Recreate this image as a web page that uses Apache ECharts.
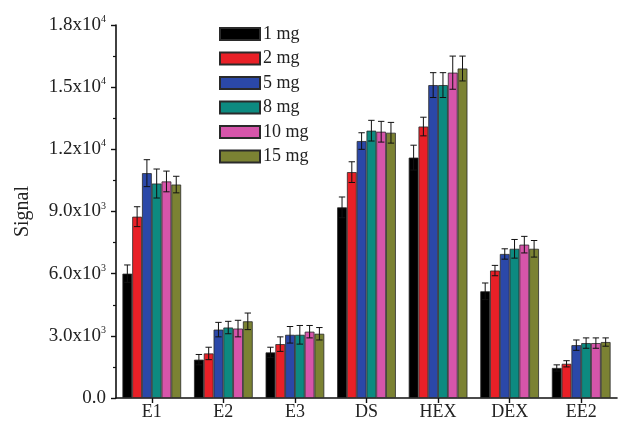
<!DOCTYPE html>
<html><head><meta charset="utf-8">
<script src="https://cdn.jsdelivr.net/npm/echarts@6/dist/echarts.min.js"></script>
<style>html,body{margin:0;padding:0;background:#fff}#c{width:618px;height:428px}</style>
</head><body><div id="c"></div>
<script>
const categories = ['E1','E2','E3','DS','HEX','DEX','EE2'];
const seriesNames = ['1 mg','2 mg','5 mg','8 mg','10 mg','15 mg'];
const colors = ['#000000','#e82027','#2b48a8','#0d8a80','#d655aa','#7b8233'];
const v1 = [6000, 1850, 2200, 9200, 11600, 5150, 1450];
const v2 = [8750, 2150, 2600, 10900, 13100, 6150, 1650];
const v5 = [10850, 3300, 3050, 12400, 15100, 6950, 2550];
const v8 = [10350, 3400, 3050, 12900, 15100, 7200, 2650];
const v10 = [10450, 3350, 3200, 12850, 15700, 7400, 2650];
const v15 = [10300, 3700, 3100, 12800, 15900, 7200, 2700];
const e1 = [420, 250, 250, 500, 600, 400, 150];
const e2 = [480, 300, 350, 500, 450, 250, 150];
const e5 = [650, 350, 400, 400, 600, 250, 250];
const e8 = [700, 300, 450, 500, 600, 450, 250];
const e10 = [500, 400, 300, 500, 800, 400, 250];
const e15 = [400, 400, 300, 500, 600, 400, 200];
const yTicks = [0, 3000, 6000, 9000, 12000, 15000, 18000];
const yTickLabels = {0:['0.0',''],3000:['3.0x10','3'],6000:['6.0x10','3'],9000:['9.0x10','3'],12000:['1.2x10','4'],15000:['1.5x10','4'],18000:['1.8x10','4']};

const values = [v1, v2, v5, v8, v10, v15];
const errors = [e1, e2, e5, e8, e10, e15];
const catGap = 0.18;
const font = '"Liberation Serif", serif';

const series = [];
values.forEach((vals, i) => {
  series.push({
    type: 'bar', name: seriesNames[i], data: vals,
    barGap: '0%', barCategoryGap: (catGap*100)+'%',
    itemStyle: { color: colors[i], borderColor: '#2a2a2a', borderWidth: 0.8 }
  });
});
values.forEach((vals, i) => {
  series.push({
    type: 'custom', name: 'err' + i, silent: true, z: 10,
    data: vals.map((v, k) => [k, v, errors[i][k]]),
    renderItem: function (params, api) {
      const k = api.value(0), v = api.value(1), e = api.value(2);
      const band = api.size([1, 0])[0];
      const bw = band * (1 - catGap) / values.length;
      const center = api.coord([k, v]);
      const x = center[0] + (i - (values.length - 1) / 2) * bw;
      const top = api.coord([k, v + e])[1];
      const bot = api.coord([k, v - e])[1];
      const cap = 3.2;
      const st = { stroke: '#111', lineWidth: 1 };
      return { type: 'group', children: [
        { type: 'line', shape: { x1: x, y1: top, x2: x, y2: bot }, style: st },
        { type: 'line', shape: { x1: x - cap, y1: top, x2: x + cap, y2: top }, style: st },
        { type: 'line', shape: { x1: x - cap, y1: bot, x2: x + cap, y2: bot }, style: st }
      ]};
    }
  });
});

const chart = echarts.init(document.getElementById('c'), null, { renderer: 'canvas' });
chart.setOption({
  animation: false,
  backgroundColor: '#ffffff',
  grid: { left: 116, right: 1, top: 25, bottom: 30, containLabel: false },
  legend: {
    data: seriesNames, orient: 'vertical', left: 214, top: 20,
    itemWidth: 40, itemHeight: 12, itemGap: 6.5, icon: 'rect',
    textStyle: { fontFamily: font, fontSize: 18, color: '#222', lineHeight: 16, padding: [0,0,0,-2] }
  },
  xAxis: {
    type: 'category', data: categories,
    axisLine: { lineStyle: { color: '#111', width: 1.6 } },
    axisTick: { show: true, alignWithLabel: true, length: 5, lineStyle: { color: '#111', width: 1.4 } },
    axisLabel: { fontFamily: font, fontSize: 18, color: '#222', margin: 5 }
  },
  yAxis: {
    type: 'value', min: 0, max: 18000, interval: 3000,
    name: 'Signal', nameLocation: 'middle', nameRotate: 90, nameGap: 83,
    nameTextStyle: { fontFamily: font, fontSize: 20, color: '#222' },
    axisLine: { show: true, lineStyle: { color: '#111', width: 1.6 } },
    axisTick: { show: true, length: 5, lineStyle: { color: '#111', width: 1.4 } },
    minorTick: { show: true, splitNumber: 2, length: 3, lineStyle: { color: '#111', width: 1.2 } },
    splitLine: { show: false },
    axisLabel: {
      margin: 10,
      formatter: function (v) {
        const t = yTickLabels[v];
        if (!t) return '';
        return t[1] ? '{a|' + t[0] + '}{s|' + t[1] + '}' : '{a|' + t[0] + '}';
      },
      rich: {
        a: { fontFamily: font, fontSize: 19, color: '#222' },
        s: { fontFamily: font, fontSize: 10, color: '#222', padding: [0, 0, 11, 0] }
      }
    }
  },
  series: series
});
</script></body></html>
